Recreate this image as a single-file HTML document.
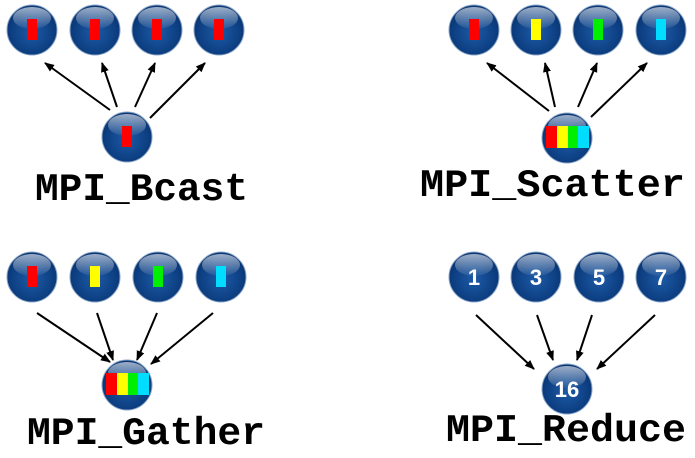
<!DOCTYPE html>
<html><head><meta charset="utf-8"><style>
html,body{margin:0;padding:0;background:#fff;}
svg{display:block}
text.l{font-family:"Liberation Mono",monospace;font-weight:bold;font-size:39px;fill:#000}
text.n{font-family:"Liberation Sans",sans-serif;font-weight:bold;font-size:22px;fill:#fff}
</style></head><body>
<svg width="695" height="458" viewBox="0 0 695 458" xmlns="http://www.w3.org/2000/svg">
<defs>
<radialGradient id="g" cx="0.5" cy="0.55" r="0.55">
<stop offset="0" stop-color="#1d5aa6"/><stop offset="0.75" stop-color="#0d3f82"/><stop offset="1" stop-color="#0a3470"/>
</radialGradient>
<linearGradient id="h" x1="0" y1="0" x2="0" y2="1">
<stop offset="0" stop-color="#fff" stop-opacity="0.6"/><stop offset="1" stop-color="#fff" stop-opacity="0.05"/>
</linearGradient>
<marker id="a" markerWidth="10" markerHeight="10" refX="9" refY="5" orient="auto" markerUnits="userSpaceOnUse">
<path d="M0,1 L10,5 L0,9 z" fill="#000"/></marker>
<g id="c"><circle r="25" fill="url(#g)" stroke="#8aa6c8" stroke-width="1"/><ellipse cx="0" cy="-12" rx="19" ry="11" fill="url(#h)"/></g>
<g id="s"><rect x="-21" y="-12" width="11" height="22" fill="#f00"/><rect x="-10" y="-12" width="11" height="22" fill="#ff0"/><rect x="1" y="-12" width="10" height="22" fill="#0e0"/><rect x="11" y="-12" width="11" height="22" fill="#0df"/></g>
<g id="r"><rect x="-5" y="-11" width="10" height="21" fill="#f00"/></g>
</defs>
<g stroke="#000" stroke-width="2" marker-end="url(#a)">
<line x1="110" y1="110" x2="45" y2="63"/><line x1="117" y1="107" x2="102" y2="63"/><line x1="135" y1="107" x2="155" y2="63"/><line x1="150" y1="118" x2="205" y2="63"/>
<line x1="549" y1="111" x2="487" y2="63"/><line x1="555" y1="107" x2="545" y2="63"/><line x1="578" y1="107" x2="597" y2="63"/><line x1="591" y1="117" x2="647" y2="63"/>
<line x1="37" y1="313" x2="110" y2="362"/><line x1="97" y1="313" x2="113" y2="360"/><line x1="157" y1="313" x2="137" y2="360"/><line x1="213" y1="313" x2="151" y2="364"/>
<line x1="476" y1="315" x2="534" y2="369"/><line x1="537" y1="315" x2="553" y2="360"/><line x1="592" y1="315" x2="577" y2="360"/><line x1="655" y1="315" x2="597" y2="369"/>
</g>
<g transform="translate(32,30)"><use href="#c"/><use href="#r"/></g>
<g transform="translate(95,30)"><use href="#c"/><use href="#r"/></g>
<g transform="translate(157,30)"><use href="#c"/><use href="#r"/></g>
<g transform="translate(219,30)"><use href="#c"/><use href="#r"/></g>
<g transform="translate(127,137)"><use href="#c"/><use href="#r"/></g>
<g transform="translate(474,30)"><use href="#c"/><rect x="-5" y="-11" width="10" height="21" fill="#f00"/></g>
<g transform="translate(536,30)"><use href="#c"/><rect x="-5" y="-11" width="10" height="21" fill="#ff0"/></g>
<g transform="translate(598,30)"><use href="#c"/><rect x="-5" y="-11" width="10" height="21" fill="#0e0"/></g>
<g transform="translate(661,30)"><use href="#c"/><rect x="-5" y="-11" width="10" height="21" fill="#0df"/></g>
<g transform="translate(567,138)"><use href="#c"/><use href="#s"/></g>
<g transform="translate(32,277)"><use href="#c"/><rect x="-5" y="-11" width="10" height="21" fill="#f00"/></g>
<g transform="translate(95,277)"><use href="#c"/><rect x="-5" y="-11" width="10" height="21" fill="#ff0"/></g>
<g transform="translate(158,277)"><use href="#c"/><rect x="-5" y="-11" width="10" height="21" fill="#0e0"/></g>
<g transform="translate(221,277)"><use href="#c"/><rect x="-5" y="-11" width="10" height="21" fill="#0df"/></g>
<g transform="translate(127,385)"><use href="#c"/><use href="#s"/></g>
<g transform="translate(474,277)"><use href="#c"/><text class="n" x="0" y="8" text-anchor="middle">1</text></g>
<g transform="translate(536,277)"><use href="#c"/><text class="n" x="0" y="8" text-anchor="middle">3</text></g>
<g transform="translate(599,277)"><use href="#c"/><text class="n" x="0" y="8" text-anchor="middle">5</text></g>
<g transform="translate(661,277)"><use href="#c"/><text class="n" x="0" y="8" text-anchor="middle">7</text></g>
<g transform="translate(567,389)"><use href="#c"/><text class="n" x="0" y="8" text-anchor="middle">16</text></g>
<text class="l" x="35" y="200" textLength="213" lengthAdjust="spacingAndGlyphs">MPI_Bcast</text>
<text class="l" x="420" y="196" textLength="265" lengthAdjust="spacingAndGlyphs">MPI_Scatter</text>
<text class="l" x="27" y="444" textLength="238" lengthAdjust="spacingAndGlyphs">MPI_Gather</text>
<text class="l" x="446" y="441" textLength="240" lengthAdjust="spacingAndGlyphs">MPI_Reduce</text>
</svg>
</body></html>
